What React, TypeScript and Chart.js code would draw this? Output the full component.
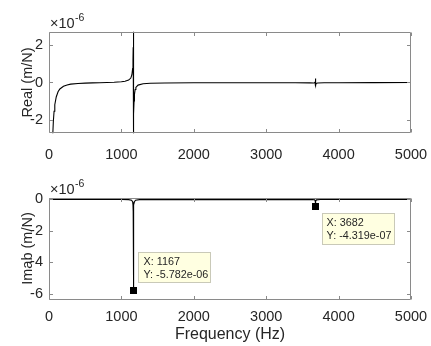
import React, { useEffect, useRef } from 'react';
import { Chart, registerables } from 'chart.js';

Chart.register(...registerables);

// ---------- data (values in units of 1e-6 m/N) ----------
const xTicks = [0, 1000, 2000, 3000, 4000, 5000];
const realTicks = [-2, 0, 2];
const imagTicks = [-6, -4, -2, 0];

const realFreq = [40, 50, 60, 70, 80, 100, 125, 150, 200, 250, 300, 400, 500, 600, 700, 800, 900, 1000, 1050, 1100, 1130, 1145, 1155, 1160, 1163, 1165, 1166, 1167, 1168, 1169, 1171, 1175, 1180, 1190, 1200, 1230, 1300, 1400, 1600, 2000, 2500, 3000, 3400, 3600, 3660, 3675, 3680, 3681, 3682, 3683, 3684, 3690, 3710, 3800, 4000, 4500, 5000];
const realVal = [-4.8, -3.0, -2.1, -1.55, -1.2, -0.78, -0.5, -0.35, -0.2, -0.13, -0.09, -0.05, -0.035, -0.02, -0.01, 0.0, 0.015, 0.04, 0.07, 0.13, 0.24, 0.42, 0.75, 1.2, 1.9, 2.7, 2.95, 0.05, -2.95, -2.6, -1.7, -1.0, -0.65, -0.38, -0.27, -0.14, -0.07, -0.04, -0.025, -0.015, -0.01, -0.01, -0.012, -0.02, -0.03, 0.02, 0.15, 0.22, 0.0, -0.22, -0.15, -0.05, -0.03, -0.015, -0.01, -0.006, -0.004];

const imagFreq = [1, 1000, 1100, 1140, 1155, 1160, 1163, 1165, 1166, 1167, 1168, 1169, 1171, 1174, 1180, 1195, 1250, 3600, 3670, 3678, 3680, 3681, 3682, 3683, 3684, 3686, 3694, 3750, 5000];
const imagVal = [0, -0.005, -0.015, -0.05, -0.15, -0.35, -0.75, -1.6, -2.6, -5.782, -2.6, -1.6, -0.75, -0.35, -0.15, -0.05, -0.015, -0.002, -0.02, -0.12, -0.25, -0.35, -0.4319, -0.35, -0.25, -0.12, -0.03, -0.005, 0];

const tipFreq = [1167, 3682];
const tipVal = [-5.782, -0.4319];
const tipText = [
  ['X: 1167', 'Y: -5.782e-06'],
  ['X: 3682', 'Y: -4.319e-07'],
];

const FONT = '"Liberation Sans", Arial, Helvetica, sans-serif';
const TEXT = '#262626';
const FRAME = '#8a8a8a';

const framePlugin = {
  id: 'matlabFrame',
  afterDatasetsDraw(chart: any) {
    const { ctx, chartArea: a, scales } = chart;
    const L = Math.round(a.left) + 0.5;
    const R = Math.round(a.right) - 0.5;
    const T = Math.round(a.top) + 0.5;
    const B = Math.round(a.bottom) - 0.5;
    const tl = 3.5;
    ctx.save();
    ctx.strokeStyle = FRAME;
    ctx.lineWidth = 1;
    ctx.beginPath();
    ctx.rect(L, T, R - L, B - T);
    scales.x.ticks.forEach((t: any) => {
      const p = Math.round(scales.x.getPixelForValue(t.value)) + 0.5;
      ctx.moveTo(p, B); ctx.lineTo(p, B - tl);
      ctx.moveTo(p, T); ctx.lineTo(p, T + tl);
    });
    scales.y.ticks.forEach((t: any) => {
      const p = Math.round(scales.y.getPixelForValue(t.value)) + 0.5;
      ctx.moveTo(L, p); ctx.lineTo(L + tl, p);
      ctx.moveTo(R, p); ctx.lineTo(R - tl, p);
    });
    ctx.stroke();
    // exponent label
    ctx.fillStyle = TEXT;
    ctx.textAlign = 'left';
    ctx.textBaseline = 'alphabetic';
    ctx.font = `14.5px ${FONT}`;
    const base = a.top - 4;
    ctx.fillText('×10', a.left + 1, base);
    const w = ctx.measureText('×10').width;
    ctx.font = `10.5px ${FONT}`;
    ctx.fillText('-6', a.left + 1 + w + 0.5, base - 7);
    ctx.restore();
  },
};

const tipPlugin = {
  id: 'dataTips',
  afterDatasetsDraw(chart: any) {
    const { ctx, scales } = chart;
    ctx.save();
    tipFreq.forEach((f, i) => {
      const mx = scales.x.getPixelForValue(f);
      const my = scales.y.getPixelForValue(tipVal[i]);
      let bx: number, by: number, bw: number, bh: number;
      if (i === 0) { bx = mx + 5; by = my - 38; bw = 73; bh = 31; }
      else { bx = mx + 6; by = my + 7; bw = 73; bh = 32; }
      ctx.fillStyle = '#FFFFE1';
      ctx.fillRect(Math.round(bx), Math.round(by), bw, bh);
      ctx.strokeStyle = '#c9c9b8';
      ctx.lineWidth = 1;
      ctx.strokeRect(Math.round(bx) + 0.5, Math.round(by) + 0.5, bw - 1, bh - 1);
      ctx.fillStyle = TEXT;
      ctx.font = `10.8px ${FONT}`;
      ctx.textAlign = 'left';
      ctx.textBaseline = 'middle';
      ctx.fillText(tipText[i][0], bx + 5, by + 9.5);
      ctx.fillText(tipText[i][1], bx + 5, by + 23);
      ctx.fillStyle = '#000';
      ctx.fillRect(Math.round(mx - 3.5), Math.round(my - 3.5), 7, 7);
    });
    ctx.restore();
  },
};

function makeConfig(
  freq: number[], vals: number[], yMin: number, yMax: number, yTicks: number[],
  yTitle: string, xTitle: string | null, padTop: number, xAxisH: number, xPad: number, extra: any[]
): any {
  return {
    type: 'line',
    data: {
      datasets: [{
        data: freq.map((f, i) => ({ x: f, y: vals[i] })),
        borderColor: '#000',
        borderWidth: 1.1,
        pointRadius: 0,
        tension: 0,
        fill: false,
      }],
    },
    options: {
      animation: false,
      responsive: false,
      devicePixelRatio: 1,
      parsing: false,
      normalized: true,
      layout: { padding: { top: padTop, right: 20, left: 0, bottom: 0 } },
      plugins: { legend: { display: false }, tooltip: { enabled: false } },
      scales: {
        x: {
          type: 'linear',
          min: 0,
          max: 5000,
          afterBuildTicks: (s: any) => { s.ticks = xTicks.map((v) => ({ value: v })); },
          afterFit: (s: any) => { s.height = xAxisH; s.paddingLeft = 0; s.paddingRight = 0; },
          grid: { display: false, drawTicks: false },
          border: { display: false },
          ticks: {
            color: TEXT,
            font: { family: FONT, size: 14.5 },
            padding: xPad,
            maxRotation: 0,
            autoSkip: false,
            callback: (v: any) => String(v),
          },
          title: xTitle
            ? { display: true, text: xTitle, color: TEXT, font: { family: FONT, size: 16 }, padding: { top: 0, bottom: 1.5 } }
            : { display: false },
        },
        y: {
          type: 'linear',
          min: yMin,
          max: yMax,
          afterBuildTicks: (s: any) => { s.ticks = yTicks.map((v) => ({ value: v })); },
          afterFit: (s: any) => { s.width = 49; s.paddingTop = 0; s.paddingBottom = 0; },
          grid: { display: false, drawTicks: false },
          border: { display: false },
          ticks: {
            color: TEXT,
            font: { family: FONT, size: 14.5 },
            padding: 6,
            autoSkip: false,
            callback: (v: any) => String(v),
          },
          title: { display: true, text: yTitle, color: TEXT, font: { family: FONT, size: 14.5 }, padding: { top: 19.3, bottom: 0 } },
        },
      },
    },
    plugins: extra,
  };
}

export default function App() {
  const topRef = useRef<HTMLCanvasElement>(null);
  const botRef = useRef<HTMLCanvasElement>(null);

  useEffect(() => {
    const c1 = new Chart(topRef.current as HTMLCanvasElement,
      makeConfig(realFreq, realVal, -2.74, 2.74, realTicks, 'Real (m/N)', null, 31.7, 36.7, 13, [framePlugin]));
    const c2 = new Chart(botRef.current as HTMLCanvasElement,
      makeConfig(imagFreq, imagVal, -6.38, 0.12, imagTicks, 'Imab (m/N)', 'Frequency (Hz)', 27.5, 46.5, 8.5, [framePlugin, tipPlugin]));
    return () => { c1.destroy(); c2.destroy(); };
  }, []);

  return (
    <div style={{ position: 'absolute', left: 0, top: 0, width: 431, height: 346, background: '#fff' }}>
      <canvas ref={topRef} width={431} height={170} style={{ position: 'absolute', left: 0, top: 0, display: 'block' }} />
      <canvas ref={botRef} width={431} height={176} style={{ position: 'absolute', left: 0, top: 170, display: 'block' }} />
    </div>
  );
}
